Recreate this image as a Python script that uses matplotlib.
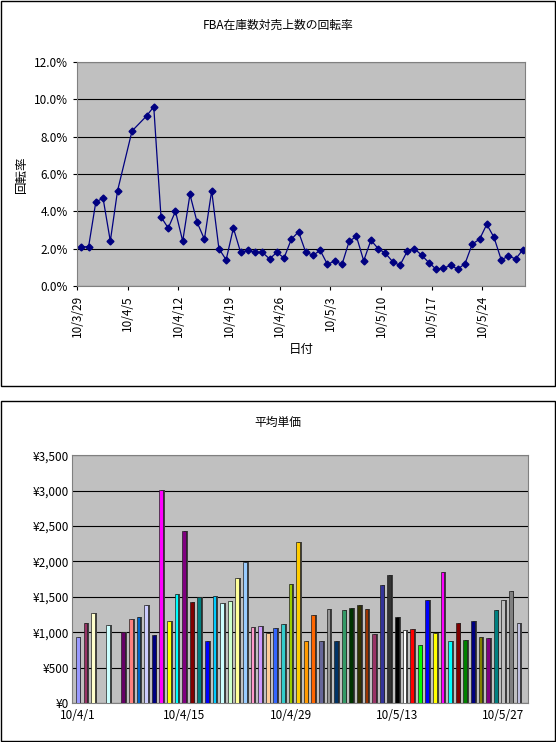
import numpy as np
import matplotlib
matplotlib.use('Agg')
import matplotlib.pyplot as plt
from matplotlib.patches import Rectangle
from matplotlib.ticker import FuncFormatter

plt.rcParams['font.family'] = ['Noto Sans CJK JP', 'DejaVu Sans']

# 回転率 (days from 10/3/29)
rate_days = [0, 1, 2, 3, 4, 5, 7, 9, 10, 11, 12, 13, 14, 15, 16, 17, 18, 19, 20, 21, 22,
             23, 24, 25, 26, 27, 28, 29, 30, 31, 32, 33, 34, 35, 36, 37, 38, 39, 40, 41,
             42, 43, 44, 45, 46, 47, 48, 49, 50, 51, 52, 53, 54, 55, 56, 57, 58, 59, 60, 61]
rate_vals = [2.1, 2.1, 4.5, 4.7, 2.4, 5.1, 8.3, 9.1, 9.6, 3.7, 3.1, 4.0, 2.4, 4.9, 3.4,
             2.5, 5.1, 2.0, 1.4, 3.1, 1.8, 1.9, 1.8, 1.8, 1.45, 1.8, 1.5, 2.5, 2.9, 1.8,
             1.65, 1.9, 1.15, 1.35, 1.15, 2.4, 2.65, 1.35, 2.45, 2.0, 1.75, 1.3, 1.1, 1.85,
             2.0, 1.65, 1.25, 0.9, 0.95, 1.1, 0.9, 1.2, 2.25, 2.5, 3.3, 2.6, 1.4, 1.6, 1.45, 1.95]
rate_ticks = ['10/3/29', '10/4/5', '10/4/12', '10/4/19', '10/4/26', '10/5/3',
              '10/5/10', '10/5/17', '10/5/24']

# 平均単価 (days from 10/4/1)
price_days = [0, 1, 2, 4] + list(range(6, 59))
price_vals = [929, 1129, 1276, 1105, 1000, 1190, 1219, 1381, 962, 3014, 1157, 1543, 2429,
              1424, 1495, 871, 1514, 1414, 1443, 1771, 1986, 1071, 1090, 995, 1062, 1114,
              1681, 2276, 881, 1248, 881, 1333, 871, 1319, 1343, 1381, 1329, 971, 1667,
              1814, 1219, 1024, 1043, 824, 1452, 986, 1843, 871, 1129, 890, 1157, 929,
              914, 1319, 1457, 1586, 1124]
price_ticks = ['10/4/1', '10/4/15', '10/4/29', '10/5/13', '10/5/27']

palette = ['#9999FF', '#993366', '#FFFFCC', '#CCFFFF', '#660066', '#FF8080', '#0066CC',
           '#CCCCFF', '#000080', '#FF00FF', '#FFFF00', '#00FFFF', '#800080', '#800000',
           '#008080', '#0000FF', '#00CCFF', '#CCFFFF', '#CCFFCC', '#FFFF99', '#99CCFF',
           '#FF99CC', '#CC99FF', '#FFCC99', '#3366FF', '#33CCCC', '#99CC00', '#FFCC00',
           '#FF9900', '#FF6600', '#666699', '#969696', '#003366', '#339966', '#003300',
           '#333300', '#993300', '#993366', '#333399', '#333333', '#000000', '#FFFFFF',
           '#FF0000', '#00FF00', '#0000FF', '#FFFF00', '#FF00FF', '#00FFFF', '#800000',
           '#008000', '#000080', '#808000', '#800080', '#008080', '#C0C0C0', '#808080',
           '#C0C0E0']

fig = plt.figure(figsize=(5.56, 7.42), dpi=100)
fig.patches.append(Rectangle((0.002, 0.48), 0.996, 0.518, transform=fig.transFigure,
                             fill=False, edgecolor='black', lw=1))
fig.patches.append(Rectangle((0.002, 0.001), 0.996, 0.459, transform=fig.transFigure,
                             fill=False, edgecolor='black', lw=1))

# top chart
ax1 = fig.add_axes([0.1385, 0.6146, 0.806, 0.302])
ax1.set_facecolor('#C0C0C0')
ax1.plot(rate_days, rate_vals, color='#000080', lw=0.9, marker='D', ms=3.5)
ax1.set_ylim(0, 12)
ax1.set_yticks(np.arange(0, 12.1, 2))
ax1.yaxis.set_major_formatter(FuncFormatter(lambda v, p: '%.1f%%' % v))
ax1.grid(axis='y', color='black', lw=0.8)
ax1.set_axisbelow(True)
ax1.set_xlim(-0.6, 61.3)
ax1.set_xticks([k * 7 - 0.6 for k in range(len(rate_ticks))])
ax1.set_xticklabels(rate_ticks, rotation=90)
ax1.tick_params(labelsize=8.5, length=3)
for s in ax1.spines.values():
    s.set_color('#808080')
ax1.set_ylabel('回転率', fontsize=9)
ax1.set_xlabel('日付', fontsize=9)
fig.text(0.5, 0.966, 'FBA在庫数対売上数の回転率', ha='center', va='center', fontsize=8.5)

# bottom chart
ax2 = fig.add_axes([0.129, 0.0526, 0.82, 0.334])
ax2.set_facecolor('#C0C0C0')
d = np.array(price_days, dtype=float)
v = np.array(price_vals, dtype=float)
cols = [palette[i % len(palette)] for i in range(len(d))]
# shadow for 3D look
ax2.bar(d + 0.22, v, width=0.5, color='#404040', zorder=2)
ax2.bar(d, v, width=0.5, color=cols, edgecolor='#202020', lw=0.5, zorder=3)
ax2.set_ylim(0, 3500)
ax2.set_yticks(np.arange(0, 3501, 500))
ax2.yaxis.set_major_formatter(FuncFormatter(lambda val, p: '¥{:,.0f}'.format(val)))
ax2.grid(axis='y', color='black', lw=0.8)
ax2.set_axisbelow(True)
ax2.set_xlim(-0.8, 59.2)
ax2.set_xticks([0, 14, 28, 42, 56])
ax2.set_xticklabels(price_ticks)
ax2.tick_params(axis='y', labelsize=8.5, length=0, pad=2)
ax2.tick_params(axis='x', labelsize=8.5, length=0, pad=4)
for s in ax2.spines.values():
    s.set_color('#808080')
fig.text(0.5, 0.431, '平均単価', ha='center', va='center', fontsize=8.5)

fig.savefig('out.png', dpi=100)
